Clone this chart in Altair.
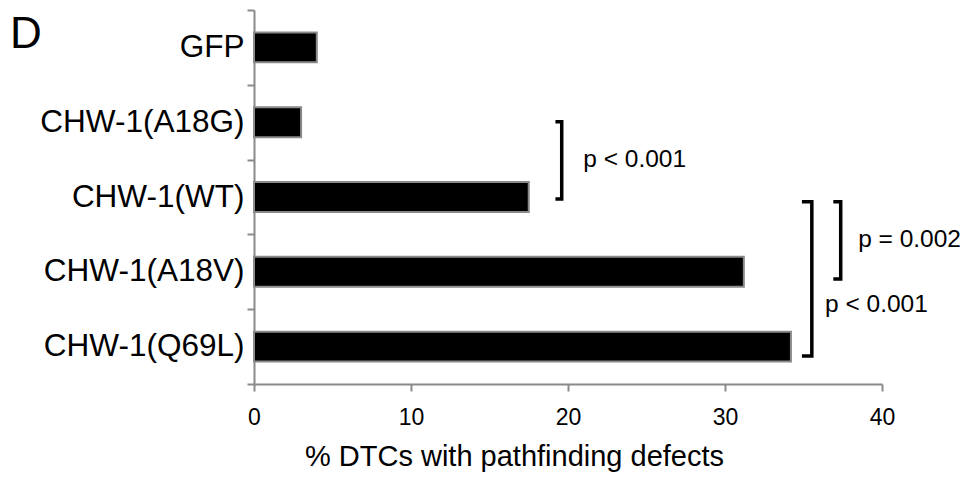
import altair as alt
import pandas as pd

categories = ["GFP", "CHW-1(A18G)", "CHW-1(WT)", "CHW-1(A18V)", "CHW-1(Q69L)"]
values = [4.0, 3.0, 17.5, 31.2, 34.2]
x_ticks = [0, 10, 20, 30, 40]

# significance brackets (x in % units, y in category-slot units from top)
bracket_left = [19.2, 36.9, 34.9]
bracket_right = [19.6, 37.37, 35.53]
bracket_top = [1.493, 2.563, 2.563]
bracket_bottom = [2.527, 3.596, 4.626]
p_labels = ["p < 0.001", "p = 0.002", "p < 0.001"]
p_x = [20.97, 38.48, 36.37]
p_y = [2.005, 3.075, 3.94]

bars_df = pd.DataFrame({"cat": categories, "val": values})

rows = []
for i in range(len(bracket_left)):
    pts = [(bracket_left[i], bracket_top[i]), (bracket_right[i], bracket_top[i]),
           (bracket_right[i], bracket_bottom[i]), (bracket_left[i], bracket_bottom[i])]
    for k, (bx, by) in enumerate(pts):
        rows.append({"b": i, "o": k, "x": bx, "y": by})
br_df = pd.DataFrame(rows)
txt_df = pd.DataFrame({"t": p_labels, "x": p_x, "y": p_y})

FONT = "Liberation Sans"
xscale = alt.Scale(domain=[0, 40], nice=False)
yq = alt.Scale(domain=[0, 5], reverse=True, nice=False, zero=False)

bars = alt.Chart(bars_df).mark_bar(
    color="black", stroke="#8a8a8a", strokeWidth=2, height=alt.RelativeBandSize(0.4)
).encode(
    x=alt.X("val:Q", scale=xscale,
            axis=alt.Axis(values=x_ticks, title="% DTCs with pathfinding defects",
                          grid=False, domainColor="#8a8a8a", domainWidth=2,
                          tickColor="#8a8a8a", tickWidth=2, tickSize=7,
                          labelFontSize=23, labelPadding=15, labelFont=FONT,
                          labelFlush=False, labelOverlap=False,
                          labelColor="black", titleFont=FONT, titleFontSize=29,
                          titleFontWeight="normal", titleColor="black",
                          titlePadding=13, titleX=260, titleAlign="center")),
    y=alt.Y("cat:N", sort=categories, scale=alt.Scale(paddingInner=0, paddingOuter=0),
            axis=alt.Axis(title=None, tickBand="extent", grid=False,
                          domainColor="#8a8a8a", domainWidth=2, tickColor="#8a8a8a",
                          tickWidth=2, tickSize=7, labelFontSize=31.5, labelFont=FONT,
                          labelColor="black", labelPadding=3, labelLimit=400)),
)

brackets = alt.Chart(br_df).mark_line(
    color="black", strokeWidth=3.5, strokeJoin="miter", strokeCap="butt"
).encode(
    x=alt.X("x:Q", scale=xscale),
    y=alt.Y("y:Q", scale=yq, axis=None),
    detail="b:N",
    order="o:Q",
)

ptext = alt.Chart(txt_df).mark_text(
    align="left", baseline="middle", font=FONT, fontSize=24.5, color="black"
).encode(
    x=alt.X("x:Q", scale=xscale),
    y=alt.Y("y:Q", scale=yq, axis=None),
    text="t:N",
)

panel = alt.Chart(pd.DataFrame({"t": ["D"]})).mark_text(
    align="left", baseline="alphabetic", font=FONT, fontSize=44, color="black"
).encode(x=alt.value(-244), y=alt.value(38), text="t:N")

chart = alt.layer(bars, brackets, ptext, panel).resolve_scale(y="independent").properties(
    width=628, height=374,
    background="white",
    autosize=alt.AutoSizeParams(type="none"),
    padding={"left": 246, "top": 2, "right": 79, "bottom": 90},
).configure_view(stroke=None)

chart.save("out.html", embed_options={"renderer": "svg", "actions": False})
